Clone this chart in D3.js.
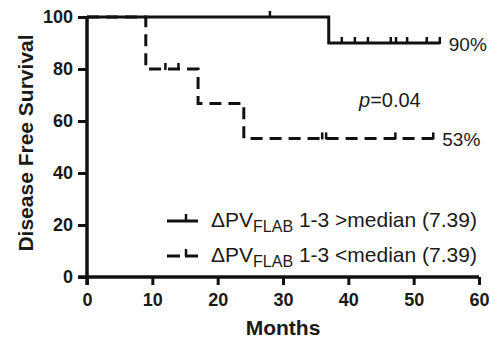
<!DOCTYPE html>
<html>
<head>
<meta charset="utf-8">
<script src="https://d3js.org/d3.v7.min.js"></script>
<style>
body { margin: 0; background: #fff; }
text { font-family: "Liberation Sans", Arial, sans-serif; fill: #1a1a1a; }
</style>
</head>
<body>
<div id="chart"></div>
<script>
// step points [month, survival %]
var highSteps = [[0, 100], [37, 100], [37, 90], [54, 90]];
var highCensor = [[28, 100], [39, 90], [41, 90], [43, 90], [46.5, 90], [47.3, 90], [49, 90], [52, 90], [54, 90]];
var lowSteps = [[0, 100], [9, 100], [9, 80], [17, 80], [17, 66.7], [24, 66.7], [24, 53.3], [53, 53.3]];
var lowCensor = [[12, 80], [14, 80], [36, 53.3], [36.6, 53.3], [47.2, 53.3], [53, 53.3]];
var xTicks = [0, 10, 20, 30, 40, 50, 60];
var yTicks = [0, 20, 40, 60, 80, 100];
var endLabels = [{x: 54, y: 90, t: "90%"}, {x: 53, y: 53.3, t: "53%"}];

var width = 494, height = 341,
	margin = {top: 17, right: 15, bottom: 64, left: 87};

var x = d3.scaleLinear().domain([0, 60]).range([margin.left, width - margin.right]);
var y = d3.scaleLinear().domain([0, 100]).range([height - margin.bottom, margin.top]);

var svg = d3.select('#chart').append('svg')
	.attr('width', width)
	.attr('height', height);

var line = d3.line().x(function(d){ return x(d[0]); }).y(function(d){ return y(d[1]); });

// curves
svg.append('path').datum(lowSteps)
	.attr('d', line)
	.attr('fill', 'none').attr('stroke', '#111').attr('stroke-width', 3)
	.attr('stroke-dasharray', '12,7');
svg.append('path').datum(highSteps)
	.attr('d', line)
	.attr('fill', 'none').attr('stroke', '#111').attr('stroke-width', 3);

// censor ticks
svg.selectAll('.cens').data(highCensor.concat(lowCensor)).enter()
	.append('line')
		.attr('x1', function(d){ return x(d[0]); })
		.attr('x2', function(d){ return x(d[0]); })
		.attr('y1', function(d){ return y(d[1]) + 1; })
		.attr('y2', function(d){ return y(d[1]) - 6; })
		.attr('stroke', '#111').attr('stroke-width', 2.5);

// axes
var xAxis = svg.append('g')
	.attr('transform', 'translate(0,' + y(0) + ')')
	.call(d3.axisBottom(x).tickValues(xTicks).tickSize(8).tickPadding(8));
var yAxis = svg.append('g')
	.attr('transform', 'translate(' + x(0) + ',0)')
	.call(d3.axisLeft(y).tickValues(yTicks).tickSize(9).tickPadding(5));

[xAxis, yAxis].forEach(function(a){
	a.select('.domain').attr('stroke', '#111').attr('stroke-width', 3.5);
	a.selectAll('.tick line').attr('stroke', '#111').attr('stroke-width', 3);
	a.selectAll('.tick text')
		.style('font-family', '"Liberation Sans", Arial, sans-serif')
		.style('font-size', '18px').style('font-weight', 'bold').attr('fill', '#1a1a1a');
});
xAxis.select('.domain').attr('d', 'M' + (x(0) - 9) + ',0H' + x(60));
yAxis.select('.domain').attr('d', 'M0,' + (y(0) + 8) + 'V' + y(100));

// axis titles
svg.append('text')
	.attr('x', 283).attr('y', 335)
	.attr('text-anchor', 'middle')
	.style('font-size', '21px').style('font-weight', 'bold')
	.text('Months');
svg.append('text')
	.attr('transform', 'translate(33,143) rotate(-90)')
	.attr('text-anchor', 'middle')
	.style('font-size', '21px').style('font-weight', 'bold')
	.text('Disease Free Survival');

// end labels
svg.selectAll('.endlab').data(endLabels).enter()
	.append('text')
		.attr('x', function(d){ return x(d.x) + 9; })
		.attr('y', function(d){ return y(d.y) + 8; })
		.style('font-size', '19px')
		.text(function(d){ return d.t; });

// p value
var p = svg.append('text').attr('x', 359).attr('y', 107).style('font-size', '20px');
p.append('tspan').style('font-style', 'italic').text('p');
p.append('tspan').text('=0.04');

// legend
var legend = [
	{label: '1-3 >median (7.39)', dash: null, y: 221},
	{label: '1-3 <median (7.39)', dash: '13,5', y: 256}
];
legend.forEach(function(l){
	svg.append('line')
		.attr('x1', 167).attr('x2', 198).attr('y1', l.y).attr('y2', l.y)
		.attr('stroke', '#111').attr('stroke-width', 3)
		.attr('stroke-dasharray', l.dash);
	svg.append('line')
		.attr('x1', 186).attr('x2', 186).attr('y1', l.y).attr('y2', l.y - 7)
		.attr('stroke', '#111').attr('stroke-width', 2.5);
	var t = svg.append('text').attr('x', 211).attr('y', l.y + 6).style('font-size', '21px');
	t.append('tspan').text('\u0394PV');
	t.append('tspan').attr('dy', 5).style('font-size', '16px').text('FLAB');
	t.append('tspan').attr('dy', -5).text(' ' + l.label);
});
</script>
</body>
</html>
